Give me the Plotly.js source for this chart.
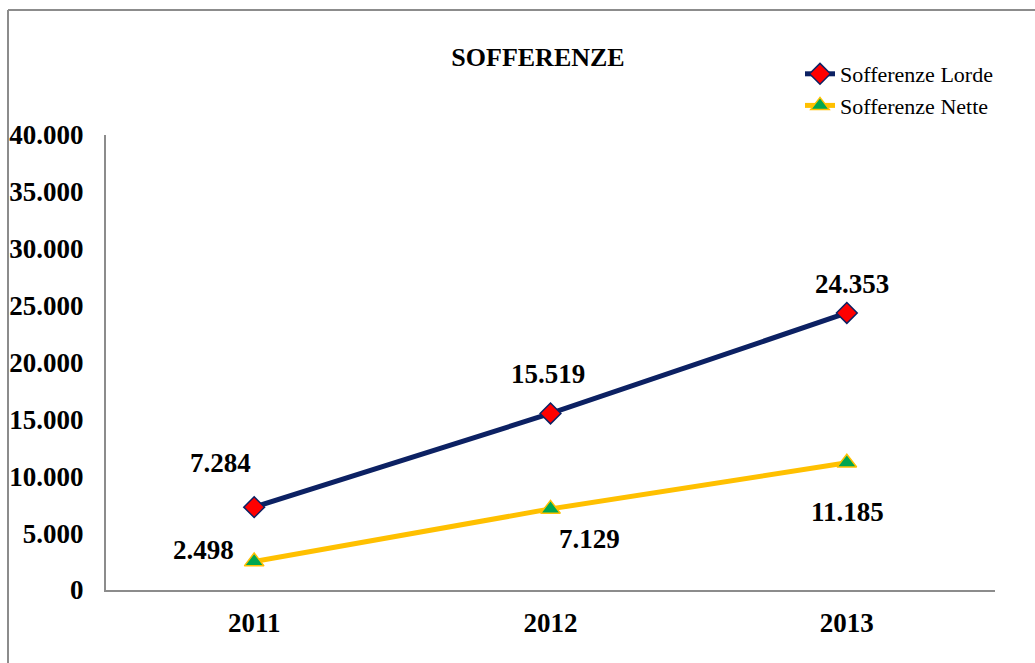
<!DOCTYPE html>
<html>
<head>
<meta charset="utf-8">
<script src="https://cdn.plot.ly/plotly-3.0.1.min.js"></script>
<style>
html,body{margin:0;padding:0;background:#fff;}
#chart{width:1035px;height:663px;}
</style>
</head>
<body>
<div id="chart"></div>
<script>
var years = ['2011', '2012', '2013'];
var lorde = [7284, 15519, 24353];
var nette = [2498, 7129, 11185];
var yTicks = [0, 5000, 10000, 15000, 20000, 25000, 30000, 35000, 40000];
var lordeLabelShift = [[-34, 44], [-3, 39], [5, 29]];
var netteLabelShift = [[-51, 12], [39, -30], [1, -49]];

function fmt(v) {
  return String(v).replace(/\B(?=(\d{3})+(?!\d))/g, '.');
}

var fontFam = '"Liberation Serif", "Times New Roman", serif';

var traces = [
  {
    x: years, y: lorde, name: 'Sofferenze Lorde', type: 'scatter', mode: 'lines+markers',
    line: {color: '#0c2163', width: 5},
    marker: {symbol: 'diamond', size: 16, color: '#ff0000', line: {color: '#0c2163', width: 1.5}}
  },
  {
    x: years, y: nette, name: 'Sofferenze Nette', type: 'scatter', mode: 'lines+markers',
    line: {color: '#ffc000', width: 5},
    marker: {symbol: 'triangle-up', size: 17, color: '#00a651', line: {color: '#ffc000', width: 1.5}}
  }
];

var annotations = [];
years.forEach(function (yr, i) {
  annotations.push({x: i, y: lorde[i], xref: 'x', yref: 'y', text: '<b>' + fmt(lorde[i]) + '</b>', showarrow: false,
    xshift: lordeLabelShift[i][0], yshift: lordeLabelShift[i][1],
    font: {family: fontFam, size: 27, color: '#000'}});
  annotations.push({x: i, y: nette[i], xref: 'x', yref: 'y', text: '<b>' + fmt(nette[i]) + '</b>', showarrow: false,
    xshift: netteLabelShift[i][0], yshift: netteLabelShift[i][1],
    font: {family: fontFam, size: 27, color: '#000'}});
});

var layout = {
  width: 1035, height: 663,
  margin: {l: 106, r: 40, t: 135, b: 73},
  paper_bgcolor: '#ffffff', plot_bgcolor: '#ffffff',
  separators: ',.',
  title: {text: '<b>SOFFERENZE</b>', x: 538 / 1035, xanchor: 'center', y: 1 - 57 / 663, yanchor: 'middle',
    font: {family: fontFam, size: 26, color: '#000'}},
  showlegend: true,
  legend: {x: (800 - 106) / 889, y: (590 - 53) / 455, xanchor: 'left', yanchor: 'top',
    bgcolor: 'rgba(0,0,0,0)', font: {family: fontFam, size: 22, color: '#000'}, tracegroupgap: 0},
  xaxis: {
    type: 'category', range: [-0.5, 2.5], showgrid: false, zeroline: false,
    showline: true, linecolor: '#8c8c8c', linewidth: 2, ticks: '',
    ticklabelstandoff: 8,
    tickfont: {family: fontFam, size: 27, color: '#000', weight: 'bold'}
  },
  yaxis: {
    range: [0, 40000], tickvals: yTicks, tickformat: ',d', showgrid: false, zeroline: false,
    showline: true, linecolor: '#8c8c8c', linewidth: 2, ticks: '',
    ticklabelstandoff: 15,
    tickfont: {family: fontFam, size: 27, color: '#000', weight: 'bold'}
  },
  annotations: annotations,
  shapes: [
    {type: 'line', xref: 'paper', yref: 'paper', x0: (8 - 106) / 889, x1: (8 - 106) / 889,
      y0: -0.3, y1: (590 - 10) / 455, line: {color: '#8c8c8c', width: 2}},
    {type: 'line', xref: 'paper', yref: 'paper', x0: (8 - 106) / 889, x1: 1.1,
      y0: (590 - 10) / 455, y1: (590 - 10) / 455, line: {color: '#8c8c8c', width: 2}}
  ]
};

Plotly.newPlot('chart', traces, layout, {displayModeBar: false, staticPlot: true});
</script>
</body>
</html>
